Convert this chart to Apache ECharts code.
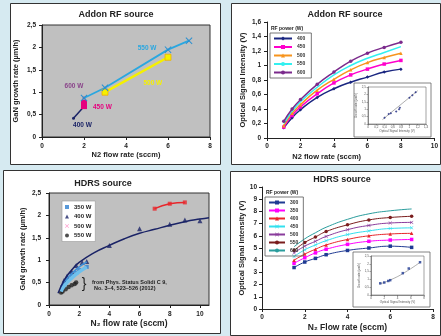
<!DOCTYPE html>
<html><head><meta charset="utf-8">
<script src="https://cdn.jsdelivr.net/npm/echarts@6/dist/echarts.min.js"></script>
<style>html,body{margin:0;padding:0;background:#d6eaf1;}#c{width:441px;height:336px;}</style>
</head><body><div id="c"></div>
<script>
// ---------- DATA ----------
// Top-left: Addon RF source, GaN growth rate vs N2 flow
const tl400 = [[1.5,0.42],[2,0.68]];
const tl450 = [[2,0.69],[2,0.76]];
const tl500 = [[3,1.0],[6,1.78]];
const tl550 = [[2,0.87],[3,1.1],[6,1.95],[7,2.15]];
const tl600 = [[2,0.87]];
const tlLabels = ['400 W','450 W','500 W','550 W','600 W'];

// Top-right: Addon RF source, optical signal intensity
const trFlow = [1,1.5,2,3,4,5,6,7,8];
const trPowers = ['400','450','500','550','600'];
const tr400 = [0.14,0.28,0.39,0.56,0.68,0.77,0.84,0.91,0.95];
const tr450 = [0.15,0.31,0.43,0.61,0.76,0.87,0.95,1.02,1.07];
const tr500 = [0.17,0.34,0.46,0.66,0.81,0.94,1.04,1.11,1.17];
const tr550 = [0.20,0.37,0.50,0.70,0.87,1.00,1.10,1.18,1.26];
const tr600 = [0.23,0.40,0.53,0.74,0.91,1.06,1.17,1.25,1.32];
const trInsetX = [0.40,0.50,0.55,0.68,0.75,0.77,1.00,1.07,1.15];
const trInsetY = [0.42,0.68,0.72,0.85,1.00,1.10,1.78,1.95,2.15];
const trInsetFit = [[0.35,0.30],[1.20,2.25]];

// Bottom-left: HDRS source, GaN growth rate vs N2 flow
const bl350 = [[0.9,0.40],[1,0.45],[1.2,0.55],[1.5,0.65],[1.8,0.72],[2,0.78],[2.5,0.85]];
const bl350fitA = [[0.8,0.30],[1,0.42],[1.5,0.60],[2,0.74],[2.5,0.85]];
const bl350fitB = [[0.8,0.42],[1,0.52],[1.5,0.70],[2,0.85],[2.5,0.96]];
const bl400 = [[1,0.55],[1.2,0.65],[1.5,0.75],[1.8,0.88],[2.2,0.95],[2.5,0.97],[4,1.33],[6,1.70],[8,1.80],[9,1.90],[10,1.88]];
const bl400fit = [[0.6,0.26],[1,0.55],[1.5,0.78],[2,0.95],[3,1.17],[4,1.33],[5,1.48],[6,1.60],[7,1.69],[8,1.78],[9,1.86],[10,1.92],[10.6,1.95]];
const bl500 = [[7,2.15],[8,2.26],[9,2.29]];
const bl550 = [[0.8,0.28],[0.9,0.30],[1.1,0.35],[1.3,0.40],[1.5,0.44],[1.7,0.47],[1.8,0.50]];
const blLegend = ['350 W','400 W','500 W','550 W'];

// Bottom-right: HDRS source, optical signal intensity
const brFlow = [1.5,2,2.5,3,4,5,6,7];
const brPowers = ['300','350','400','450','500','550','600'];
const br300 = [3.40,3.85,4.15,4.45,4.80,5.00,5.15,5.05];
const br350 = [3.75,4.20,4.60,4.90,5.30,5.55,5.65,5.70];
const br400 = [4.00,4.50,4.90,5.25,5.70,6.00,6.15,6.20];
const br450 = [4.30,4.85,5.25,5.60,6.10,6.40,6.60,6.65];
const br500 = [4.60,5.15,5.55,5.95,6.50,6.85,7.05,7.10];
const br550 = [4.80,5.45,5.90,6.35,6.90,7.30,7.50,7.60];
const br600 = [5.10,5.75,6.25,6.70,7.35,7.80,8.05,8.20];
const brInsetX = [1.4,2.0,2.6,2.9,4.8,5.7,7.4];
const brInsetY = [0.75,0.80,0.90,0.95,1.40,1.70,2.10];
const brInsetFit = [[1.3,0.70],[3,0.98],[5,1.42],[7.5,2.12]];

// ---------- STYLE HELPERS ----------
const FF = '"Liberation Sans", Arial, sans-serif';
const comma = v => String(v).replace('.', ',');
const XS = 'path://M1,0L5,4L9,0L10,1L6,5L10,9L9,10L5,6L1,10L0,9L4,5L0,1Z';
const zipXY = (xs, ys) => xs.map((x, i) => [x, ys[i]]);

function axis(gi, min, max, interval, opts) {
  return Object.assign({
    gridIndex: gi, type: 'value', min: min, max: max, interval: interval,
    axisLine: {show: true, lineStyle: {color: '#222', width: 1}},
    axisTick: {show: true, length: 3, lineStyle: {color: '#222'}},
    splitLine: {show: false},
    axisLabel: {fontSize: 6.5, fontWeight: 'bold', color: '#222', fontFamily: FF, margin: 5},
    nameTextStyle: {fontSize: 7.5, fontWeight: 'bold', color: '#222', fontFamily: FF},
    nameLocation: 'middle'
  }, opts || {});
}
function smallAxis(gi, min, max, interval, name, opts) {
  return Object.assign({
    gridIndex: gi, type: 'value', min: min, max: max, interval: interval, z: 8,
    axisLine: {show: true, lineStyle: {color: '#555', width: 0.6}},
    axisTick: {show: true, length: 1.5, lineStyle: {color: '#555', width: 0.5}},
    splitLine: {show: false},
    axisLabel: {fontSize: 3, color: '#555', fontFamily: FF, margin: 2, formatter: comma},
    name: name, nameLocation: 'middle',
    nameTextStyle: {fontSize: 3, color: '#555', fontFamily: FF}
  }, opts || {});
}

const grids = [
  {left: 42, top: 25, width: 168, height: 112, show: true, backgroundColor: '#c0c0c0', borderColor: '#333', borderWidth: 1},
  {left: 267, top: 22, width: 172, height: 116},
  {left: 368, top: 87, width: 58, height: 37, show: true, backgroundColor: '#fff', borderColor: '#666', borderWidth: 0.6, z: 7},
  {left: 49, top: 193, width: 160, height: 112, show: true, backgroundColor: '#c0c0c0', borderColor: '#333', borderWidth: 1},
  {left: 262, top: 187, width: 171, height: 122},
  {left: 371, top: 256, width: 53, height: 39, show: true, backgroundColor: '#fff', borderColor: '#666', borderWidth: 0.6, z: 7}
];

const xAxes = [
  axis(0, 0, 8, 2, {name: 'N2 flow rate (sccm)', nameGap: 14, axisLabel: {fontSize: 6.5, fontWeight: 'bold', color: '#222', fontFamily: FF, margin: 6}}),
  axis(1, 0, 10, 2, {name: 'N2 flow rate (sccm)', nameGap: 15,
    nameTextStyle: {fontSize: 7.5, fontWeight: 'bold', color: '#222', fontFamily: FF, padding: [0, 48, 0, 0]}}),
  smallAxis(2, 0, 1.4, 0.2, 'Optical Signal Intensity (V)', {nameGap: 6}),
  axis(3, 0, 10.6, 2, {name: 'N₂ flow rate (sccm)', nameGap: 13,
    axisLabel: {fontSize: 6.5, fontWeight: 'bold', color: '#222', fontFamily: FF, margin: 6, showMaxLabel: false},
    nameTextStyle: {fontSize: 8.5, fontWeight: 'bold', color: '#222', fontFamily: FF}}),
  axis(4, 0, 8, 2, {name: 'N₂ Flow rate (sccm)', nameGap: 14,
    nameTextStyle: {fontSize: 8.5, fontWeight: 'bold', color: '#222', fontFamily: FF}}),
  smallAxis(5, 0, 8, 2, 'Optical Signal Intensity (V)', {nameGap: 6})
];
const yAxes = [
  axis(0, 0, 2.5, 0.5, {name: 'GaN growth rate (µm/h)', nameGap: 22,
    axisLabel: {fontSize: 6.5, fontWeight: 'bold', color: '#222', fontFamily: FF, margin: 6, formatter: comma}}),
  axis(1, 0, 1.6, 0.2, {name: 'Optical Signal Intensity (V)', nameGap: 20,
    axisLabel: {fontSize: 6.5, fontWeight: 'bold', color: '#222', fontFamily: FF, margin: 6, formatter: comma}}),
  smallAxis(2, 0, 2.5, 0.5, 'Growth rate (µm/h)', {nameGap: 7}),
  axis(3, 0, 2.5, 0.5, {name: 'GaN growth rate (µm/h)', nameGap: 22,
    axisLabel: {fontSize: 6.5, fontWeight: 'bold', color: '#222', fontFamily: FF, margin: 8, formatter: comma}}),
  axis(4, 0, 10, 1, {name: 'Optical Signal Intensity (V)', nameGap: 14}),
  smallAxis(5, 0, 2.5, 0.5, 'Growth rate (µm/h)', {nameGap: 7})
];

const series = [];
// ----- top-left -----
const lbl = (txt, color, pos, offset) => ({show: true, formatter: txt, color: color, position: pos, offset: offset,
  fontSize: 6.5, fontWeight: 'bold', fontFamily: FF, distance: 5});
series.push({type: 'line', name: 'tl_' + tlLabels[0], xAxisIndex: 0, yAxisIndex: 0, symbol: 'circle', symbolSize: 3,
  lineStyle: {color: '#1a2366', width: 1.5}, itemStyle: {color: '#1a2366'},
  data: tl400.map((d, i) => i === 0 ? {value: d, label: lbl(tlLabels[0], '#1a2366', 'bottom', [9, -3])} : d)});
series.push({type: 'line', name: 'tl_' + tlLabels[1], xAxisIndex: 0, yAxisIndex: 0, symbol: 'rect', symbolSize: 6,
  lineStyle: {color: '#e6007e', width: 2}, itemStyle: {color: '#e6007e'},
  data: tl450.map((d, i) => i === 0 ? {value: d, label: lbl(tlLabels[1], '#e6007e', 'right', [1, 1])} : d)});
series.push({type: 'line', name: 'tl_' + tlLabels[2], xAxisIndex: 0, yAxisIndex: 0, symbol: 'rect', symbolSize: 6,
  lineStyle: {color: '#f5f000', width: 2.5}, itemStyle: {color: '#f5f000', borderColor: '#f0b000', borderWidth: 0.8},
  data: tl500.map((d, i) => i === 0 ? {value: d, label: lbl(tlLabels[2], '#f5f000', 'right', [30, -9])} : d)});
series.push({type: 'line', name: 'tl_' + tlLabels[3], xAxisIndex: 0, yAxisIndex: 0, symbol: XS, symbolSize: 7,
  lineStyle: {color: '#2aa7e0', width: 1.8}, itemStyle: {color: '#2a8fd0'},
  data: tl550.map((d, i) => i === 2 ? {value: d, label: lbl(tlLabels[3], '#2aa7e0', 'left', [-3, -1])} : d)});
series.push({type: 'scatter', name: 'tl_' + tlLabels[4], xAxisIndex: 0, yAxisIndex: 0, symbol: 'circle', symbolSize: 3,
  itemStyle: {color: '#7a1f7a'},
  data: tl600.map(d => ({value: d, label: lbl(tlLabels[4], '#7a1f7a', 'top', [-10, -2])}))});

// ----- top-right -----
const trCols = ['#1a2680', '#ff00cc', '#f7941d', '#33f0f0', '#7b2a8c'];
const trSyms = ['diamond', 'rect', 'triangle', 'none', 'circle'];
[tr400, tr450, tr500, tr550, tr600].forEach((arr, k) => {
  series.push({type: 'line', name: 'tr_' + trPowers[k], xAxisIndex: 1, yAxisIndex: 1, smooth: true,
    symbol: trSyms[k], symbolSize: 3.5, lineStyle: {color: trCols[k], width: 1.5}, itemStyle: {color: trCols[k]},
    data: zipXY(trFlow, arr)});
});
series.push({type: 'line', xAxisIndex: 2, yAxisIndex: 2, z: 9, symbol: 'none', lineStyle: {color: '#777', width: 0.6}, data: trInsetFit});
series.push({type: 'scatter', xAxisIndex: 2, yAxisIndex: 2, z: 9, symbol: 'diamond', symbolSize: 2.5, itemStyle: {color: '#1a2680'}, data: zipXY(trInsetX, trInsetY)});

// ----- bottom-left -----
series.push({type: 'line', name: 'fitA', xAxisIndex: 3, yAxisIndex: 3, smooth: true, symbol: 'none', lineStyle: {color: '#6fc0ec', width: 3.5}, data: bl350fitA});
series.push({type: 'line', name: 'fitB', xAxisIndex: 3, yAxisIndex: 3, smooth: true, symbol: 'none', lineStyle: {color: '#3d8fd8', width: 1.5}, data: bl350fitB});
series.push({type: 'line', name: 'fit400', xAxisIndex: 3, yAxisIndex: 3, smooth: true, symbol: 'none', lineStyle: {color: '#1a2366', width: 1.5}, data: bl400fit});
series.push({type: 'line', name: 'fit500', xAxisIndex: 3, yAxisIndex: 3, smooth: true, symbol: 'none', lineStyle: {color: '#e8262b', width: 1.5}, data: bl500});
series.push({type: 'scatter', name: blLegend[0], xAxisIndex: 3, yAxisIndex: 3, symbol: 'rect', symbolSize: 4, itemStyle: {color: '#2f7fd0'}, data: bl350});
series.push({type: 'scatter', name: blLegend[1], xAxisIndex: 3, yAxisIndex: 3, symbol: 'triangle', symbolSize: 5, itemStyle: {color: '#1a2366'}, data: bl400});
series.push({type: 'scatter', name: blLegend[2], xAxisIndex: 3, yAxisIndex: 3, symbol: 'rect', symbolSize: 4, itemStyle: {color: '#e8262b'}, data: bl500});
series.push({type: 'scatter', name: blLegend[3], xAxisIndex: 3, yAxisIndex: 3, symbol: 'circle', symbolSize: 4.5, itemStyle: {color: '#222'}, data: bl550});

// ----- bottom-right -----
const brCols = ['#1f3a93', '#ff00ff', '#e8262b', '#33e0ee', '#8a3c9c', '#7a1d1d', '#2a9d9d'];
const brSyms = ['rect', 'rect', 'triangle', XS, XS, 'circle', 'none'];
[br300, br350, br400, br450, br500, br550, br600].forEach((arr, k) => {
  series.push({type: 'line', name: 'br_' + brPowers[k], xAxisIndex: 4, yAxisIndex: 4, smooth: true,
    symbol: brSyms[k], symbolSize: 3.5, lineStyle: {color: brCols[k], width: 1}, itemStyle: {color: brCols[k]},
    data: zipXY(brFlow, arr)});
});
series.push({type: 'line', xAxisIndex: 5, yAxisIndex: 5, z: 9, smooth: true, symbol: 'none', lineStyle: {color: '#777', width: 0.6}, data: brInsetFit});
series.push({type: 'scatter', xAxisIndex: 5, yAxisIndex: 5, z: 9, symbol: 'rect', symbolSize: 2.5, itemStyle: {color: '#1f3a93'}, data: zipXY(brInsetX, brInsetY)});

const lgText = {fontSize: 5, fontWeight: 'bold', color: '#333', fontFamily: FF};
const legends = [
  {left: 270, top: 33, orient: 'vertical', data: trPowers.map(p => 'tr_' + p), formatter: n => n.split('_')[1],
    borderColor: '#555', borderWidth: 0.8, padding: [3, 6, 3, 3], itemWidth: 18, itemHeight: 5, itemGap: 3.5, textStyle: lgText, selectedMode: false},
  {left: 265, top: 197, orient: 'vertical', data: brPowers.map(p => 'br_' + p), formatter: n => n.split('_')[1],
    borderColor: '#555', borderWidth: 0.8, padding: [3, 5, 3, 3], itemWidth: 16, itemHeight: 5, itemGap: 3, textStyle: lgText, selectedMode: false},
  {left: 62, top: 201, orient: 'vertical',
    data: [{name: blLegend[0], icon: 'rect'}, {name: blLegend[1], icon: 'triangle'},
           {name: blLegend[2], icon: XS, itemStyle: {color: '#ff7fbf'}}, {name: blLegend[3], icon: 'circle'}],
    backgroundColor: '#fff', borderColor: '#999', borderWidth: 0.6, padding: [3, 4, 3, 3], itemWidth: 4, itemHeight: 4, itemGap: 3.5,
    textStyle: {fontSize: 6, fontWeight: 'bold', color: '#222', fontFamily: FF}, selectedMode: false}
];

const txt = (x, y, s, size, opts) => ({type: 'text', x: x, y: y, z: 20, style: Object.assign({text: s, fontSize: size, fontWeight: 'bold',
  fontFamily: FF, fill: '#222', align: 'center', verticalAlign: 'middle'}, opts || {})});
const panel = (x, y, w, h) => ({type: 'rect', z: -10, shape: {x: x, y: y, width: w, height: h}, style: {fill: '#fff', stroke: '#333', lineWidth: 1}});
const graphics = [
  panel(10.5, 3.5, 210, 161), panel(231.5, 3.5, 209, 161), panel(3.5, 170.5, 217, 163), panel(230.5, 171.5, 210, 164),
  {type: 'rect', z: 5, shape: {x: 354, y: 83, width: 77, height: 54}, style: {fill: '#fff', stroke: '#666', lineWidth: 0.8}},
  {type: 'rect', z: 5, shape: {x: 353, y: 252, width: 77, height: 55}, style: {fill: '#fff', stroke: '#666', lineWidth: 0.8}},
  txt(116, 15, 'Addon RF source', 9),
  txt(345, 15, 'Addon RF source', 9),
  txt(103, 184, 'HDRS source', 9),
  txt(342, 180, 'HDRS source', 9),
  txt(271, 29, 'RF power (W)', 5, {align: 'left'}),
  txt(266, 193, 'RF power (W)', 5, {align: 'left'}),
  txt(84, 284, '}', 14, {fontWeight: 'normal'}),
  txt(92, 282, 'from Phys. Status Solidi C 9,', 5.5, {align: 'left'}),
  txt(94, 288.5, 'No. 3–4, 523–526 (2012)', 5.5, {align: 'left'})
];

const chart = echarts.init(document.getElementById('c'), null, {renderer: 'canvas'});
chart.setOption({
  animation: false,
  backgroundColor: '#d6eaf1',
  grid: grids, xAxis: xAxes, yAxis: yAxes, series: series, legend: legends,
  graphic: {elements: graphics}
});
</script></body></html>
